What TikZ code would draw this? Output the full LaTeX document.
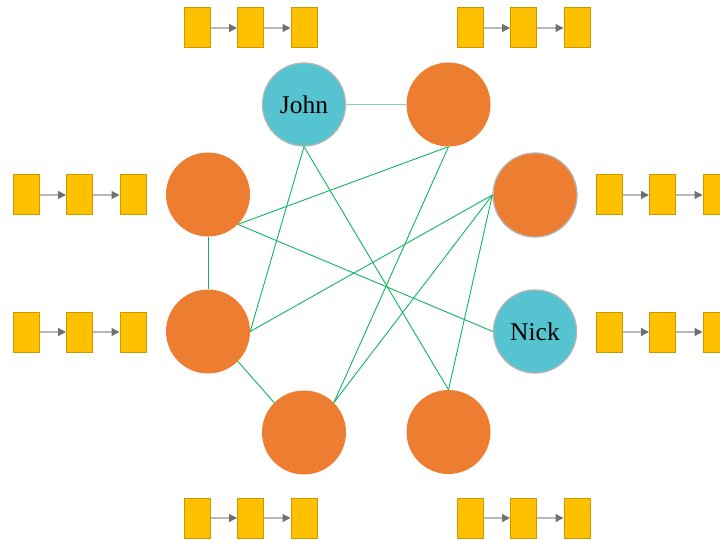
\documentclass[tikz,border=0pt]{standalone}
\usepackage{fontspec}
\setmainfont{Liberation Serif}
\usetikzlibrary{arrows.meta}

\definecolor{peer}{HTML}{ED7D31}
\definecolor{user}{HTML}{56C4D0}
\definecolor{rim}{HTML}{B4B4B4}
\definecolor{link}{HTML}{10B560}
\definecolor{linklight}{HTML}{80D8A4}
\definecolor{blockfill}{HTML}{FFC000}
\definecolor{blockedge}{HTML}{C99A00}
\definecolor{chainline}{HTML}{B8B8B8}
\definecolor{chaintip}{HTML}{707070}

\tikzset{
  x=1pt, y=-1pt,
  peernode/.style={circle, fill=peer, minimum size=84pt, inner sep=0pt},
  usernode/.style={circle, fill=user, draw=rim, line width=1.3pt, minimum size=83pt, inner sep=0pt,
    font=\fontsize{25.5}{25.5}\selectfont},
  rimmed/.style={draw=rim, line width=1.3pt},
  edge/.style={draw=link, line width=0.9pt},
  block/.style={rectangle, fill=blockfill, draw=blockedge, line width=1pt,
    minimum width=26pt, minimum height=40pt, inner sep=0pt},
  chainarrow/.style={draw=chainline, line width=1.3pt,
    -{Triangle[length=8pt,width=8pt,color=chaintip]}}
}

\newcommand{\chain}[3]{%
  \node[block] (#1a) at (#2,#3) {};
  \node[block] (#1b) at (#2+53.5,#3) {};
  \node[block] (#1c) at (#2+107,#3) {};
  \draw[chainarrow] (#1a.east) -- (#1b.west);
  \draw[chainarrow] (#1b.east) -- (#1c.west);
}

\begin{document}
\begin{tikzpicture}
\useasboundingbox (0,0) rectangle (720,540);

% block chains held by each peer
\chain{ctl}{197}{28}
\chain{ctr}{470}{28}
\chain{cl1}{26}{195}
\chain{cl2}{26}{332}
\chain{cr1}{609}{195}
\chain{cr2}{609}{332}
\chain{cbl}{197}{518}
\chain{cbr}{470}{518}

% peers
\node[usernode] (john) at (304,104.5) {John};
\node[peernode] (tr) at (448.5,104.5) {};
\node[peernode, rimmed] (ru) at (535,195) {};
\node[peernode] (lu) at (208,194.5) {};
\node[peernode] (ll) at (208,331.5) {};
\node[usernode] (nick) at (535,331.5) {Nick};
\node[peernode] (bl) at (304,432.5) {};
\node[peernode] (br) at (448.5,432) {};

% connections
\draw[draw=linklight, line width=1.6pt] (john.east) -- (tr.west);
\draw[edge] (john.south) -- (ll.east);
\draw[edge] (john.south) -- (br.north);
\draw[edge] (tr.south) -- (lu.south east);
\draw[edge] (tr.south) -- (bl.north east);
\draw[edge] (ru.west) -- (ll.east);
\draw[edge] (ru.west) -- (bl.north east);
\draw[edge] (ru.west) -- (br.north);
\draw[edge] (lu.south east) -- (nick.west);
\draw[edge] (lu.south) -- (ll.north);
\draw[edge] (ll.south east) -- (bl.north west);
\end{tikzpicture}
\end{document}
